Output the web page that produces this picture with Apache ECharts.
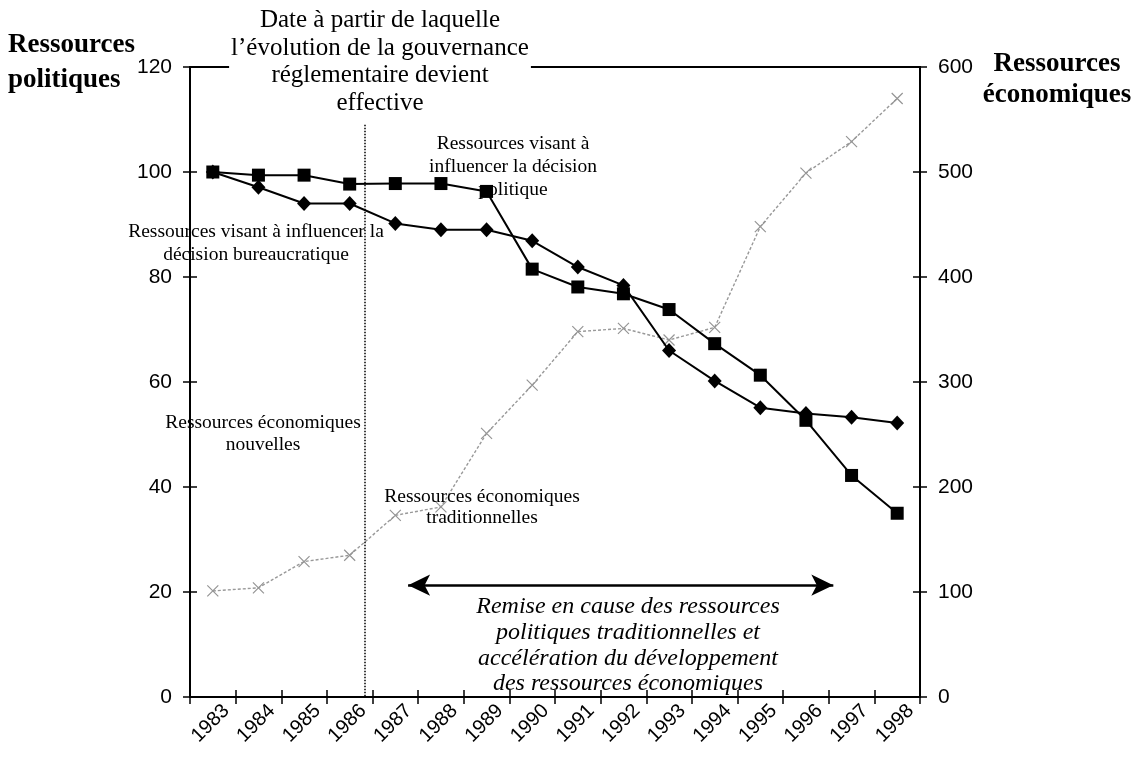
<!DOCTYPE html>
<html>
<head>
<meta charset="utf-8">
<title>Ressources politiques et économiques 1983-1998</title>
<script src="https://cdn.jsdelivr.net/npm/echarts@6/dist/echarts.min.js"></script>
<style>
  html, body { margin: 0; padding: 0; background: #fff; }
  #chart { width: 1136px; height: 764px; }
</style>
</head>
<body>
<div id="chart"></div>
<script>
// Years on the category axis
const years = ['1983', '1984', '1985', '1986', '1987', '1988', '1989', '1990',
               '1991', '1992', '1993', '1994', '1995', '1996', '1997', '1998'];

// Left axis (index 1983 = 100)
const politiqueValues = [100, 99.4, 99.4, 97.7, 97.8, 97.8, 96.3, 81.5,
                         78.1, 76.8, 73.8, 67.3, 61.3, 52.7, 42.2, 35.0];
const bureaucratiqueValues = [100, 97.1, 94.0, 94.0, 90.2, 89.0, 89.0, 86.9,
                              81.9, 78.4, 66.0, 60.2, 55.1, 54.0, 53.3, 52.2];

// Right axis
const economiqueValues = [101, 104, 129, 135, 173, 181, 251, 297,
                          348, 351, 340, 352, 448, 499, 529, 570];

// Axis ranges and tick steps
const leftTicks = { min: 0, max: 120, interval: 20 };
const rightTicks = { min: 0, max: 600, interval: 100 };

// Annotations, in category units (0 = left edge of 1983, 16 = right edge of 1998)
const reformDate = 3.82;          // dotted vertical marker
const reformTop = 109;
const periodStart = 4.78;         // double arrow
const periodEnd = 14.1;
const periodLevel = 21.3;

const SERIF = '"Liberation Serif", "Times New Roman", serif';
const SANS = '"Liberation Sans", Arial, sans-serif';

const xSymbol = 'path://M0,0L10,10M10,0L0,10';

const chart = echarts.init(document.getElementById('chart'), null, { renderer: 'canvas' });

const tickLabel = { color: '#000', fontFamily: SANS, fontSize: 21 };

const option = {
  animation: false,
  backgroundColor: '#fff',
  grid: {
    left: 190, right: 216, top: 67, bottom: 67,
    show: true, borderColor: '#000', borderWidth: 2, backgroundColor: 'transparent'
  },
  xAxis: [
    {
      type: 'category', data: years, position: 'bottom', boundaryGap: true,
      axisLine: { lineStyle: { color: '#000', width: 2 } },
      axisTick: { show: true, interval: 0, length: 7, lineStyle: { color: '#000', width: 1.5 } },
      axisLabel: {
        interval: 0, rotate: 45, margin: 10, fontSize: 20, color: '#000', fontFamily: SANS,
        align: 'right', verticalAlign: 'top', padding: [0, -9, 0, 0]
      },
      splitLine: { show: false }
    },
    {
      type: 'category', data: years, position: 'bottom', boundaryGap: true,
      axisLine: { show: false },
      axisTick: { show: true, inside: true, interval: 0, length: 7, lineStyle: { color: '#000', width: 1.5 } },
      axisLabel: { show: false },
      splitLine: { show: false }
    },
    {
      type: 'value', position: 'bottom', min: 0, max: 16, show: false
    }
  ],
  yAxis: [
    {
      type: 'value', position: 'left', min: leftTicks.min, max: leftTicks.max, interval: leftTicks.interval,
      axisLine: { show: true, lineStyle: { color: '#000', width: 2 } },
      axisTick: { show: true, length: 7, lineStyle: { color: '#000', width: 1.5 } },
      axisLabel: Object.assign({ margin: 18 }, tickLabel),
      splitLine: { show: false }
    },
    {
      type: 'value', position: 'right', min: rightTicks.min, max: rightTicks.max, interval: rightTicks.interval,
      axisLine: { show: true, lineStyle: { color: '#000', width: 2 } },
      axisTick: { show: true, length: 7, lineStyle: { color: '#000', width: 1.5 } },
      axisLabel: Object.assign({ margin: 18 }, tickLabel),
      splitLine: { show: false }
    },
    {
      type: 'value', position: 'left', min: leftTicks.min, max: leftTicks.max, interval: leftTicks.interval,
      axisLine: { show: false },
      axisTick: { show: true, inside: true, length: 7, lineStyle: { color: '#000', width: 1.5 } },
      axisLabel: { show: false },
      splitLine: { show: false }
    },
    {
      type: 'value', position: 'right', min: rightTicks.min, max: rightTicks.max, interval: rightTicks.interval,
      axisLine: { show: false },
      axisTick: { show: true, inside: true, length: 7, lineStyle: { color: '#000', width: 1.5 } },
      axisLabel: { show: false },
      splitLine: { show: false }
    }
  ],
  series: [
    {
      name: 'Ressources économiques',
      type: 'line', xAxisIndex: 0, yAxisIndex: 1, z: 3,
      data: economiqueValues,
      symbol: xSymbol, symbolSize: 11, showAllSymbol: true,
      lineStyle: { color: '#999', width: 1.4, type: [3, 2] },
      itemStyle: { color: 'transparent', borderColor: '#959595', borderWidth: 1.2 }
    },
    {
      name: 'Ressources visant à influencer la décision bureaucratique',
      type: 'line', xAxisIndex: 0, yAxisIndex: 0, z: 4,
      data: bureaucratiqueValues,
      symbol: 'diamond', symbolSize: [14, 15], showAllSymbol: true,
      lineStyle: { color: '#000', width: 2 },
      itemStyle: { color: '#000' }
    },
    {
      name: 'Ressources visant à influencer la décision politique',
      type: 'line', xAxisIndex: 0, yAxisIndex: 0, z: 5,
      data: politiqueValues,
      symbol: 'rect', symbolSize: 13, showAllSymbol: true,
      lineStyle: { color: '#000', width: 2 },
      itemStyle: { color: '#000' }
    },
    {
      name: 'date',
      type: 'line', xAxisIndex: 2, yAxisIndex: 0, data: [], z: 2,
      markLine: {
        silent: true, animation: false, symbol: ['none', 'none'],
        label: { show: false },
        lineStyle: { color: '#000', width: 1.5, type: [1.5, 1.5] },
        data: [[{ coord: [reformDate, reformTop] }, { coord: [reformDate, 0] }]]
      }
    },
    {
      name: 'période',
      type: 'line', xAxisIndex: 2, yAxisIndex: 0, data: [], z: 2,
      markLine: {
        silent: true, animation: false, symbol: ['arrow', 'arrow'], symbolSize: [16, 22],
        label: { show: false },
        lineStyle: { color: '#000', width: 2.5, type: 'solid' },
        itemStyle: { color: '#000' },
        data: [[{ coord: [periodStart, periodLevel] }, { coord: [periodEnd, periodLevel] }]]
      }
    }
  ],
  graphic: [
    {
      type: 'text', x: 380, y: 62, z: 100,
      style: {
        text: 'Date à partir de laquelle\nl\u2019évolution de la gouvernance\nréglementaire devient\neffective',
        fill: '#000', fontFamily: SERIF, fontSize: 25, lineHeight: 27.5,
        align: 'center', verticalAlign: 'middle',
        backgroundColor: '#fff', padding: [0, 2]
      }
    },
    {
      type: 'text', x: 8, y: 63, z: 100,
      style: {
        text: 'Ressources\npolitiques', fill: '#000', fontFamily: SERIF, fontWeight: 'bold',
        fontSize: 27, lineHeight: 35, align: 'left', verticalAlign: 'middle'
      }
    },
    {
      type: 'text', x: 1057, y: 80, z: 100,
      style: {
        text: 'Ressources\néconomiques', fill: '#000', fontFamily: SERIF, fontWeight: 'bold',
        fontSize: 27, lineHeight: 31, align: 'center', verticalAlign: 'middle'
      }
    },
    {
      type: 'text', x: 513, y: 167, z: 1,
      style: {
        text: 'Ressources visant à\ninfluencer la décision\npolitique', fill: '#000', fontFamily: SERIF,
        fontSize: 19.5, lineHeight: 23, align: 'center', verticalAlign: 'middle'
      }
    },
    {
      type: 'text', x: 256, y: 243.5, z: 1,
      style: {
        text: 'Ressources visant à influencer la\ndécision bureaucratique', fill: '#000', fontFamily: SERIF,
        fontSize: 19.5, lineHeight: 23, align: 'center', verticalAlign: 'middle'
      }
    },
    {
      type: 'text', x: 263, y: 434, z: 1,
      style: {
        text: 'Ressources économiques\nnouvelles', fill: '#000', fontFamily: SERIF,
        fontSize: 19.5, lineHeight: 22, align: 'center', verticalAlign: 'middle'
      }
    },
    {
      type: 'text', x: 482, y: 507.5, z: 100,
      style: {
        text: 'Ressources économiques\ntraditionnelles', fill: '#000', fontFamily: SERIF,
        fontSize: 19.5, lineHeight: 21.5, align: 'center', verticalAlign: 'middle'
      }
    },
    {
      type: 'text', x: 628, y: 645.5, z: 1,
      style: {
        text: 'Remise en cause des ressources\npolitiques traditionnelles et\naccélération du développement\ndes ressources économiques',
        fill: '#000', fontFamily: SERIF, fontStyle: 'italic',
        fontSize: 24, lineHeight: 25.7, align: 'center', verticalAlign: 'middle'
      }
    }
  ]
};

chart.setOption(option);
</script>
</body>
</html>
